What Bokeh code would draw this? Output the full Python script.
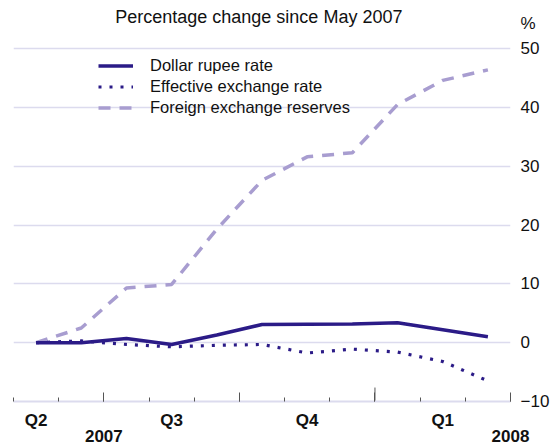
from bokeh.plotting import figure
from bokeh.models import (LinearAxis, FixedTicker, Range1d, Legend,
                          LegendItem, Grid)
from bokeh.core.properties import value
from bokeh.embed import file_html
from bokeh.resources import INLINE

# ---- data (percentage change since May 2007, monthly) ----
months = ["May", "Jun", "Jul", "Aug", "Sep", "Oct", "Nov", "Dec", "Jan", "Feb", "Mar"]
month_pos = [0.5, 1.5, 2.5, 3.5, 4.5, 5.5, 6.5, 7.5, 8.5, 9.5, 10.5]
dollar_rupee = [0.0, 0.0, 0.7, -0.3, 1.3, 3.1, 3.15, 3.2, 3.4, 2.2, 1.0]
effective_rate = [0.0, 0.3, -0.3, -0.7, -0.45, -0.3, -1.75, -1.1, -1.6, -3.2, -6.5]
fx_reserves = [0.0, 2.5, 9.3, 9.9, 19.3, 27.6, 31.6, 32.3, 40.5, 44.6, 46.4]

y_ticks = [-10, 0, 10, 20, 30, 40, 50]
grid_ticks = [0, 10, 20, 30, 40, 50]
unit_tick = 54.3
unit_label = "%"
month_ticks = [0, 1, 2, 3, 4, 5, 6, 7, 8, 9, 10, 11]
quarter_bounds = [2, 5, 8, 11]
year_bounds = [8]
quarter_pos = [0.5, 3.5, 6.5, 9.5]
quarter_labels = ["Q2", "Q3", "Q4", "Q1"]
year_pos = [2, 11]
year_labels = ["2007", "2008"]
title = "Percentage change since May 2007"
title_x = [5.43]
title_y = [55.4]

FONT = "Liberation Sans"
DARK = "#2b1b87"
LIGHT = "#a89dd0"
GRID = "#dcdbee"
TXT = "#111111"

W, H = 552, 444
Y_TOP = 58.19
p = figure(width=W, height=H, output_backend="svg", toolbar_location=None,
           x_range=Range1d(0, 11), y_range=Range1d(-10, Y_TOP),
           x_axis_type=None, y_axis_type=None,
           min_border_left=13, min_border_right=40,
           min_border_top=0, min_border_bottom=42)
p.outline_line_color = None

p.add_layout(Grid(dimension=1, ticker=FixedTicker(ticks=grid_ticks),
                  grid_line_color=GRID, grid_line_width=1.3))

# right y axis (the unit sign sits above the top tick)
yax = LinearAxis(ticker=FixedTicker(ticks=y_ticks + [unit_tick], minor_ticks=[]),
                 major_label_overrides={unit_tick: unit_label},
                 axis_line_color=None,
                 major_tick_line_color=None, minor_tick_line_color=None,
                 major_tick_out=0, major_tick_in=0,
                 major_label_standoff=10,
                 major_label_text_font=FONT, major_label_text_font_size="17px",
                 major_label_text_color=TXT)
p.add_layout(yax, "right")

# x axis: ticks only
xax1 = LinearAxis(ticker=FixedTicker(ticks=quarter_bounds, minor_ticks=month_ticks),
                  major_tick_in=9, major_tick_out=0, minor_tick_in=4, minor_tick_out=0,
                  major_tick_line_color="#555555", minor_tick_line_color="#555555",
                  axis_line_color=GRID, axis_line_width=2,
                  major_label_overrides={b: "" for b in quarter_bounds},
                  major_label_standoff=0, major_label_text_font_size="1px")
p.add_layout(xax1, "below")

xax2 = LinearAxis(ticker=FixedTicker(ticks=quarter_pos, minor_ticks=[]),
                  major_label_overrides=dict(zip(quarter_pos, quarter_labels)),
                  axis_line_color=None, major_tick_line_color=None,
                  minor_tick_line_color=None, major_tick_in=0, major_tick_out=0,
                  major_label_standoff=9, major_label_text_font=FONT,
                  major_label_text_font_style="bold",
                  major_label_text_font_size="17px", major_label_text_color=TXT)
p.add_layout(xax2, "below")

xax3 = LinearAxis(ticker=FixedTicker(ticks=year_pos, minor_ticks=[]),
                  major_label_overrides=dict(zip(year_pos, year_labels)),
                  axis_line_color=None, major_tick_line_color=None,
                  minor_tick_line_color=None, major_tick_in=0, major_tick_out=0,
                  major_label_standoff=-3, major_label_text_font=FONT,
                  major_label_text_font_style="bold",
                  major_label_text_font_size="17px", major_label_text_color=TXT)
p.add_layout(xax3, "below")

# longer tick at the year boundary
px_per_unit = (H - 42) / (Y_TOP + 10)
p.segment(x0=year_bounds, x1=year_bounds, y0=[-10] * len(year_bounds),
          y1=[-10 + 14 / px_per_unit] * len(year_bounds),
          line_color="#555555", line_width=1)

r_res = p.line(month_pos, fx_reserves, line_color=LIGHT, line_width=3.5,
               line_dash="12 9")
r_eff = p.line(month_pos, effective_rate, line_color=DARK, line_width=3.2,
               line_dash="3 8")
r_dol = p.line(month_pos, dollar_rupee, line_color=DARK, line_width=3.5)

legend = Legend(items=[LegendItem(label="Dollar rupee rate", renderers=[r_dol]),
                       LegendItem(label="Effective exchange rate", renderers=[r_eff]),
                       LegendItem(label="Foreign exchange reserves", renderers=[r_res])],
                location=(85, 283), glyph_width=35, glyph_height=21,
                label_height=21, spacing=0, padding=0, margin=0,
                border_line_color=None, background_fill_alpha=0,
                label_text_font=FONT, label_text_font_size="16.5px",
                label_text_color=TXT, label_standoff=17)
p.add_layout(legend)

# chart title
p.text(x=title_x, y=title_y, text=[title], text_align="center",
       text_baseline="alphabetic", text_font=value(FONT),
       text_font_size="18px", text_color=TXT)

open("out.html", "w").write(file_html(p, INLINE))
